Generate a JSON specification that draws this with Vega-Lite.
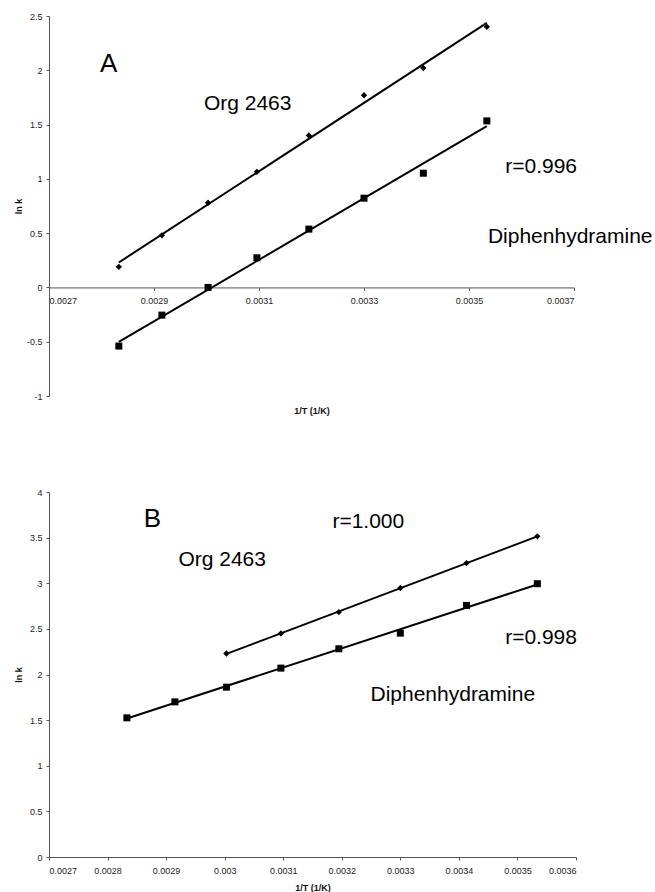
{
  "$schema": "https://vega.github.io/schema/vega-lite/v6.json",
  "padding": {"left": 14, "top": 12, "right": 0, "bottom": 0},
  "background": "white",
  "config": {
    "font": "Liberation Sans",
    "view": {"stroke": null},
    "axis": {
      "grid": false,
      "domainColor": "#555",
      "tickColor": "#555",
      "tickSize": 3,
      "labelColor": "#222",
      "labelFont": "Liberation Sans",
      "labelFontSize": 9,
      "titleFont": "Liberation Sans",
      "titleFontSize": 9,
      "titleFontWeight": "bold",
      "titleColor": "#111",
      "labelExpr": "replace(datum.label, '−', '-')"
    },
    "text": {"font": "Liberation Sans", "color": "black"}
  },
  "datasets": {
    "pointsA": [
      {"x": 0.002833, "y": 0.19, "series": "Org 2463"},
      {"x": 0.002915, "y": 0.48, "series": "Org 2463"},
      {"x": 0.003003, "y": 0.78, "series": "Org 2463"},
      {"x": 0.003096, "y": 1.065, "series": "Org 2463"},
      {"x": 0.003195, "y": 1.40, "series": "Org 2463"},
      {"x": 0.0033, "y": 1.77, "series": "Org 2463"},
      {"x": 0.003413, "y": 2.02, "series": "Org 2463"},
      {"x": 0.003534, "y": 2.40, "series": "Org 2463"},
      {"x": 0.002833, "y": -0.54, "series": "Diphenhydramine"},
      {"x": 0.002915, "y": -0.255, "series": "Diphenhydramine"},
      {"x": 0.003003, "y": 0.0, "series": "Diphenhydramine"},
      {"x": 0.003096, "y": 0.273, "series": "Diphenhydramine"},
      {"x": 0.003195, "y": 0.537, "series": "Diphenhydramine"},
      {"x": 0.0033, "y": 0.822, "series": "Diphenhydramine"},
      {"x": 0.003413, "y": 1.052, "series": "Diphenhydramine"},
      {"x": 0.003534, "y": 1.534, "series": "Diphenhydramine"}
    ],
    "pointsB": [
      {"x": 0.003003, "y": 2.23, "series": "Org 2463"},
      {"x": 0.003096, "y": 2.45, "series": "Org 2463"},
      {"x": 0.003195, "y": 2.684, "series": "Org 2463"},
      {"x": 0.0033, "y": 2.947, "series": "Org 2463"},
      {"x": 0.003413, "y": 3.221, "series": "Org 2463"},
      {"x": 0.003534, "y": 3.514, "series": "Org 2463"},
      {"x": 0.002833, "y": 1.525, "series": "Diphenhydramine"},
      {"x": 0.002915, "y": 1.70, "series": "Diphenhydramine"},
      {"x": 0.003003, "y": 1.861, "series": "Diphenhydramine"},
      {"x": 0.003096, "y": 2.07, "series": "Diphenhydramine"},
      {"x": 0.003195, "y": 2.282, "series": "Diphenhydramine"},
      {"x": 0.0033, "y": 2.453, "series": "Diphenhydramine"},
      {"x": 0.003413, "y": 2.757, "series": "Diphenhydramine"},
      {"x": 0.003534, "y": 2.995, "series": "Diphenhydramine"}
    ],
    "letterA": [{"x": 0.002797, "y": 2.056, "label": "A"}],
    "notesA": [
      {"x": 0.002995, "y": 1.688, "label": "Org 2463"},
      {"x": 0.003569, "y": 1.108, "label": "r=0.996"},
      {"x": 0.003536, "y": 0.463, "label": "Diphenhydramine"}
    ],
    "letterB": [{"x": 0.002862, "y": 3.708, "label": "B"}],
    "notesB": [
      {"x": 0.002921, "y": 3.251, "label": "Org 2463"},
      {"x": 0.003184, "y": 3.671, "label": "r=1.000"},
      {"x": 0.003479, "y": 2.403, "label": "r=0.998"},
      {"x": 0.003249, "y": 1.777, "label": "Diphenhydramine"}
    ]
  },
  "spacing": 72,
  "vconcat": [
    {
      "width": 525,
      "height": 380,
      "encoding": {
        "x": {
          "field": "x", "type": "quantitative",
          "scale": {"domain": [0.0027, 0.0037], "nice": false, "zero": false},
          "axis": {
            "values": [0.0027, 0.0029, 0.0031, 0.0033, 0.0035, 0.0037],
            "format": ".4~f",
            "offset": -108.57,
            "labelPadding": 6,
            "title": "1/T (1/K)",
            "titleY": 119,
            "titleBaseline": "top"
          }
        },
        "y": {
          "field": "y", "type": "quantitative",
          "scale": {"domain": [-1, 2.5], "nice": false, "zero": false},
          "axis": {
            "values": [-1, -0.5, 0, 0.5, 1, 1.5, 2, 2.5],
            "format": "~g",
            "labelPadding": 4,
            "title": "ln k",
            "titlePadding": 3
          }
        }
      },
      "layer": [
        {
          "data": {"name": "pointsA"},
          "transform": [{"regression": "y", "on": "x", "groupby": ["series"]}],
          "mark": {"type": "line", "color": "black", "strokeWidth": 2},
          "encoding": {"detail": {"field": "series", "type": "nominal"}}
        },
        {
          "data": {"name": "pointsA"},
          "mark": {"type": "point", "filled": true, "color": "black", "opacity": 1},
          "encoding": {
            "shape": {"field": "series", "type": "nominal", "scale": {"domain": ["Org 2463", "Diphenhydramine"], "range": ["diamond", "square"]}, "legend": null},
            "size": {"field": "series", "type": "nominal", "scale": {"domain": ["Org 2463", "Diphenhydramine"], "range": [40, 49]}, "legend": null}
          }
        },
        {
          "data": {"name": "letterA"},
          "mark": {"type": "text", "align": "left", "baseline": "middle", "fontSize": 26},
          "encoding": {"text": {"field": "label"}}
        },
        {
          "data": {"name": "notesA"},
          "mark": {"type": "text", "align": "left", "baseline": "middle", "fontSize": 21},
          "encoding": {"text": {"field": "label"}}
        }
      ]
    },
    {
      "width": 527,
      "height": 365,
      "encoding": {
        "x": {
          "field": "x", "type": "quantitative",
          "scale": {"domain": [0.0027, 0.0036], "nice": false, "zero": false},
          "axis": {
            "values": [0.0027, 0.0028, 0.0029, 0.003, 0.0031, 0.0032, 0.0033, 0.0034, 0.0035, 0.0036],
            "format": ".4~f",
            "labelPadding": 6,
            "title": "1/T (1/K)",
            "titleY": 26,
            "titleBaseline": "top"
          }
        },
        "y": {
          "field": "y", "type": "quantitative",
          "scale": {"domain": [0, 4], "nice": false, "zero": false},
          "axis": {
            "values": [0, 0.5, 1, 1.5, 2, 2.5, 3, 3.5, 4],
            "format": "~g",
            "labelPadding": 4,
            "title": "ln k",
            "titlePadding": 6
          }
        }
      },
      "layer": [
        {
          "data": {"name": "pointsB"},
          "transform": [{"regression": "y", "on": "x", "groupby": ["series"]}],
          "mark": {"type": "line", "color": "black", "strokeWidth": 2},
          "encoding": {"detail": {"field": "series", "type": "nominal"}}
        },
        {
          "data": {"name": "pointsB"},
          "mark": {"type": "point", "filled": true, "color": "black", "opacity": 1},
          "encoding": {
            "shape": {"field": "series", "type": "nominal", "scale": {"domain": ["Org 2463", "Diphenhydramine"], "range": ["diamond", "square"]}, "legend": null},
            "size": {"field": "series", "type": "nominal", "scale": {"domain": ["Org 2463", "Diphenhydramine"], "range": [30, 49]}, "legend": null}
          }
        },
        {
          "data": {"name": "letterB"},
          "mark": {"type": "text", "align": "left", "baseline": "middle", "fontSize": 26},
          "encoding": {"text": {"field": "label"}}
        },
        {
          "data": {"name": "notesB"},
          "mark": {"type": "text", "align": "left", "baseline": "middle", "fontSize": 21},
          "encoding": {"text": {"field": "label"}}
        }
      ]
    }
  ]
}
